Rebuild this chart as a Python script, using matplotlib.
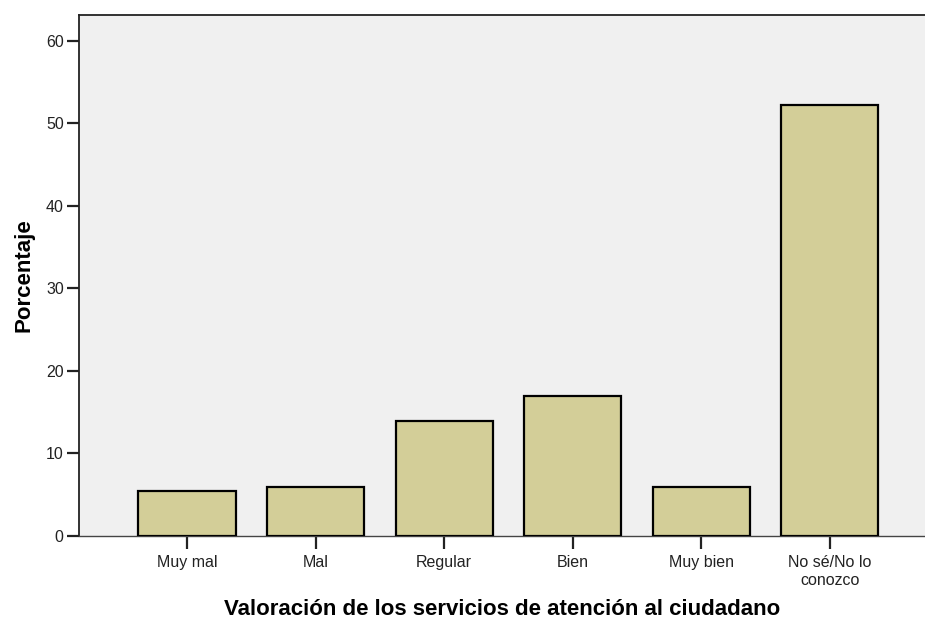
import matplotlib
matplotlib.use("Agg")
import matplotlib.pyplot as plt

# data
categorias = ["Muy mal", "Mal", "Regular", "Bien", "Muy bien", "No sé/No lo\nconozco"]
porcentajes = [5.4, 5.9, 13.9, 17.0, 5.9, 52.3]
y_ticks = [0, 10, 20, 30, 40, 50, 60]

plt.rcParams['font.family'] = ['Liberation Sans', 'DejaVu Sans']

fig = plt.figure(figsize=(9.25, 6.22), dpi=100)
ax = fig.add_axes([0.0854, 0.1383, 0.9146, 0.8376])
ax.set_facecolor('#f0f0f0')

pos = list(range(len(categorias)))
ax.bar(pos, porcentajes, width=0.755, color='#d3ce98', edgecolor='black', linewidth=1.6, zorder=3)

ax.set_xlim(-0.84, 5.74)
ax.set_ylim(0, 63.15)
ax.set_xticks(pos)
ax.set_xticklabels(categorias, fontsize=11.5, color='#222222')
ax.set_yticks(y_ticks)
ax.set_yticklabels([str(v) for v in y_ticks], fontsize=11.5, color='#222222')
ax.tick_params(axis='both', direction='out', length=9, width=1.6, color='#222222')
ax.tick_params(axis='x', pad=5)
ax.tick_params(axis='y', pad=2)

for side in ['left', 'top']:
    ax.spines[side].set_color('#222222')
    ax.spines[side].set_linewidth(1.3)
ax.spines['bottom'].set_color('#444444')
ax.spines['bottom'].set_linewidth(1.0)
ax.spines['right'].set_visible(False)

ax.set_ylabel('Porcentaje', fontsize=16, fontweight='bold', labelpad=8)
ax.set_xlabel('Valoración de los servicios de atención al ciudadano', fontsize=16, fontweight='bold', labelpad=8)

fig.savefig('out.png', dpi=100)
